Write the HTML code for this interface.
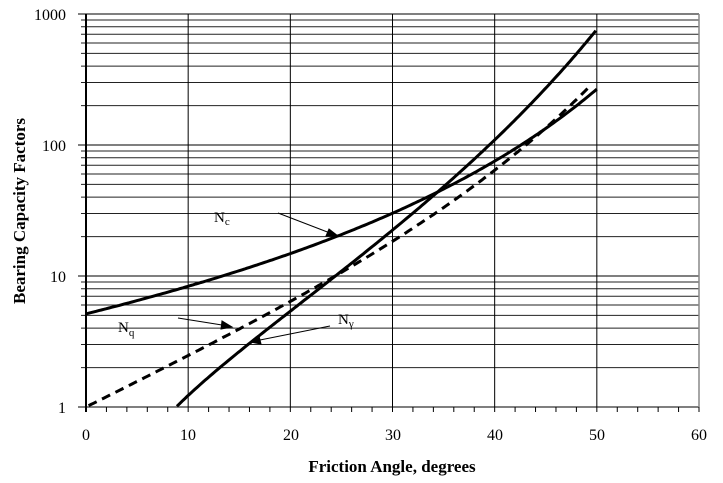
<!DOCTYPE html>
<html><head><meta charset="utf-8"><style>
html,body{margin:0;padding:0;background:#fff;}
svg{display:block;font-family:"Liberation Serif",serif;}
</style></head><body>
<svg id="s" width="723" height="483" viewBox="0 0 723 483" xmlns="http://www.w3.org/2000/svg">
<rect width="723" height="483" fill="#fff"/>
<g id="grid"></g>
<g id="curves" fill="none" stroke="#000" stroke-width="3"></g>
<g font-size="16" fill="#000">
<text x="66" y="20" text-anchor="end">1000</text>
<text x="66" y="151" text-anchor="end">100</text>
<text x="66" y="282" text-anchor="end">10</text>
<text x="66" y="413" text-anchor="end">1</text>
<text x="86" y="440" text-anchor="middle">0</text>
<text x="188" y="440" text-anchor="middle">10</text>
<text x="291" y="440" text-anchor="middle">20</text>
<text x="393" y="440" text-anchor="middle">30</text>
<text x="495" y="440" text-anchor="middle">40</text>
<text x="597" y="440" text-anchor="middle">50</text>
<text x="699" y="440" text-anchor="middle">60</text>
</g>
<text x="392" y="472" text-anchor="middle" font-size="17" font-weight="bold">Friction Angle, degrees</text>
<text transform="translate(25,211) rotate(-90)" text-anchor="middle" font-size="17" font-weight="bold">Bearing Capacity Factors</text>
<g font-size="15">
<text x="214" y="222">N<tspan font-size="11" dy="3">c</tspan></text>
<text x="118" y="332">N<tspan font-size="11" dy="4">q</tspan></text>
<text x="338" y="324">N<tspan font-size="11" dy="3">γ</tspan></text>
</g>
<g stroke="#000" stroke-width="1" fill="#000">
<line x1="278" y1="213" x2="330" y2="233"/><polygon points="338,236 326,236 329,229"/>
<line x1="178" y1="318" x2="222" y2="325"/><polygon points="232,327 221,329 222,321"/>
<line x1="330" y1="326" x2="260" y2="340"/><polygon points="250,342 259,336 261,344"/>
</g>
</svg>
<script>
var L=86,R=699,T=14,B=407,dx=(R-L)/60,dec=(B-T)/3;
function X(p){return L+p*dx;}
function Y(v){return B-Math.log10(v)*dec;}
var g=document.getElementById('grid'),h='';
for(var d=0;d<3;d++)for(var k=2;k<=9;k++){var y=Y(k*Math.pow(10,d));h+='<line x1="'+(L-5)+'" x2="'+R+'" y1="'+y+'" y2="'+y+'" stroke="#222" stroke-width="1"/>';}
for(var d=0;d<=3;d++){var y=Y(Math.pow(10,d));h+='<line x1="'+(L-8)+'" x2="'+R+'" y1="'+y+'" y2="'+y+'" stroke="#555" stroke-width="1.5"/>';}
for(var i=1;i<=5;i++){var x=X(i*10);h+='<line x1="'+x+'" x2="'+x+'" y1="'+T+'" y2="'+B+'" stroke="#000" stroke-width="1"/>';}
for(var i=0;i<=60;i+=2){var x=X(i);h+='<line x1="'+x+'" x2="'+x+'" y1="'+B+'" y2="'+(B+5)+'" stroke="#000" stroke-width="1"/>';}
h+='<line x1="'+R+'" x2="'+R+'" y1="'+T+'" y2="'+B+'" stroke="#888" stroke-width="1.5"/>';
h+='<line x1="'+L+'" x2="'+L+'" y1="'+T+'" y2="'+(B+5)+'" stroke="#000" stroke-width="2"/>';
g.innerHTML=h;
function Nq(p){var r=p*Math.PI/180;var t=Math.tan(Math.PI/4+r/2);return Math.exp(Math.PI*Math.tan(r))*t*t;}
function Nc(p){if(p<0.01)return 5.14;return (Nq(p)-1)/Math.tan(p*Math.PI/180);}
function Ng(p){return 2*(Nq(p)+1)*Math.tan(p*Math.PI/180);}
function path(f,a,b,extra){var s='';for(var p=a;p<=b+1e-9;p+=0.25){var v=f(p);if(v<1)continue;s+=(s?'L':'M')+X(p).toFixed(1)+','+Y(v).toFixed(1);}return '<path d="'+s+'" '+(extra||'')+'/>';}
var c='';
c+=path(Nc,0,50);
c+=path(Nq,0,49.5,'stroke-dasharray="9,6"');
c+=path(Ng,8.9,50);
document.getElementById('curves').innerHTML=c;
</script>
</body></html>
